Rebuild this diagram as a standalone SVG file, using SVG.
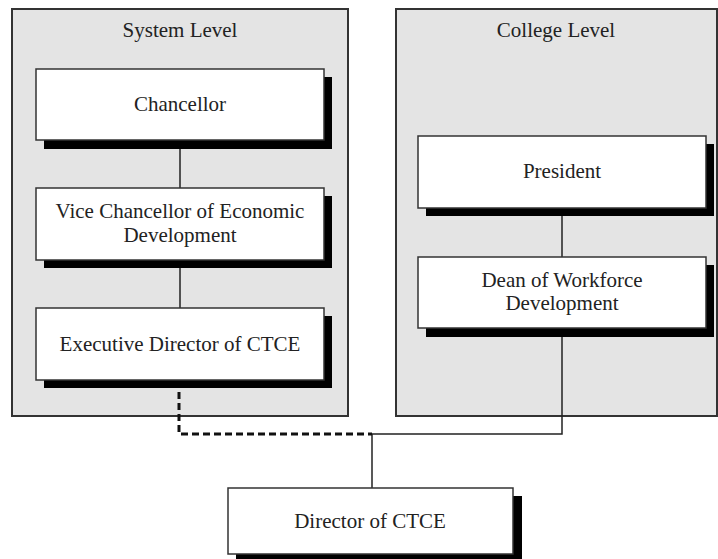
<svg xmlns="http://www.w3.org/2000/svg" width="718" height="559" viewBox="0 0 718 559">
<style>
.cont{fill:#e4e4e4;stroke:#333;stroke-width:2}
.box{fill:#fff;stroke:#333;stroke-width:1.5}
.sh{fill:#000}
.t{font-family:'Liberation Serif','Times New Roman','DejaVu Serif',serif;font-size:21px;fill:#222;text-anchor:middle}
.ln{stroke:#222;stroke-width:1.5;fill:none}
.dash{stroke:#111;stroke-width:3;fill:none;stroke-dasharray:7 4}
</style>
<rect width="718" height="559" fill="#fff"/>
<g id="system-level">
<rect class="cont" x="12" y="9" width="336" height="407"/>
<text class="t" x="180" y="37" font-family="Liberation Serif, serif">System Level</text>
</g>
<g id="college-level">
<rect class="cont" x="396" y="9" width="321" height="407"/>
<text class="t" x="556" y="37" font-family="Liberation Serif, serif">College Level</text>
</g>
<g id="connectors">
<line class="ln" x1="180" y1="140" x2="180" y2="188"/>
<line class="ln" x1="180" y1="260" x2="180" y2="308"/>
<line class="ln" x1="562" y1="208" x2="562" y2="257"/>
<polyline class="ln" points="562,328 562,434 372,434"/>
<line class="ln" x1="372" y1="434" x2="372" y2="488"/>
<polyline class="dash" points="179,381 179,434 372,434"/>
</g>
<g id="chancellor">
<rect class="sh" x="44" y="77" width="288" height="72"/>
<rect class="box" x="36" y="69" width="288" height="71"/>
<text class="t" x="180" y="111">Chancellor</text>
</g>
<g id="vice-chancellor">
<rect class="sh" x="44" y="196" width="288" height="72"/>
<rect class="box" x="36" y="188" width="288" height="72"/>
<text class="t" x="180" y="218">Vice Chancellor of Economic</text>
<text class="t" x="180" y="242">Development</text>
</g>
<g id="executive-director">
<rect class="sh" x="44" y="316" width="288" height="72"/>
<rect class="box" x="36" y="308" width="288" height="72"/>
<text class="t" x="180" y="351">Executive Director of CTCE</text>
</g>
<g id="president">
<rect class="sh" x="426" y="144" width="288" height="72"/>
<rect class="box" x="418" y="136" width="288" height="72"/>
<text class="t" x="562" y="178">President</text>
</g>
<g id="dean">
<rect class="sh" x="426" y="265" width="288" height="72"/>
<rect class="box" x="418" y="257" width="288" height="71"/>
<text class="t" x="562" y="287">Dean of Workforce</text>
<text class="t" x="562" y="310">Development</text>
</g>
<g id="director">
<rect class="sh" x="236" y="496" width="286" height="66"/>
<rect class="box" x="228" y="488" width="285" height="66"/>
<text class="t" x="370" y="528">Director of CTCE</text>
</g>
</svg>
